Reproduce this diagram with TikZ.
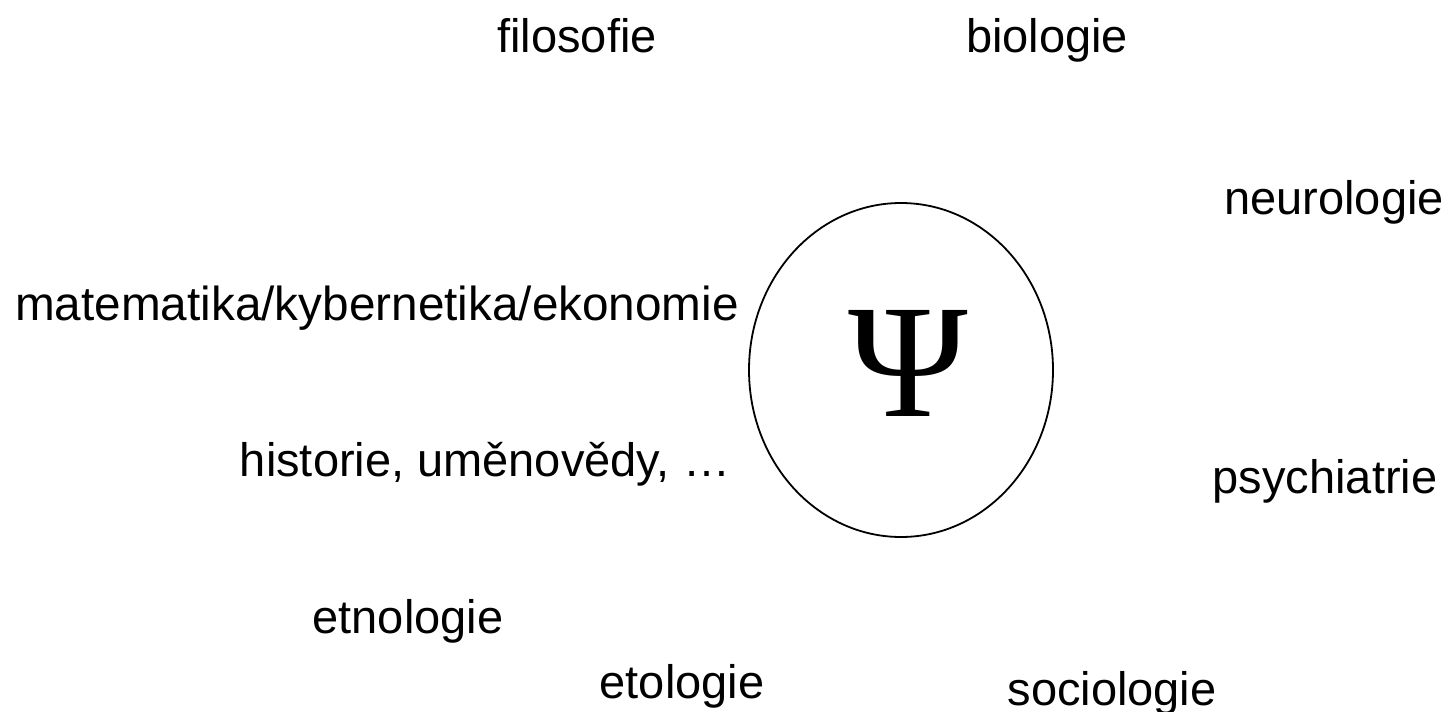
\documentclass[tikz,border=0pt]{standalone}
\usepackage{fontspec}
\usetikzlibrary{shapes.geometric}
\setmainfont{Liberation Sans}
\newfontfamily\psifont{Liberation Serif}
\begin{document}
\begin{tikzpicture}[x=1pt,y=-1pt,
  lbl/.style={anchor=base,inner sep=0pt,font=\fontsize{47}{56}\selectfont},
  psibox/.style={draw,ellipse,line width=1.8pt,minimum width=304pt,minimum height=334pt,inner sep=0pt}]
\useasboundingbox (0,0) rectangle (1451,712);
\node[psibox] (circ) at (901,370) {};
\node[anchor=base,inner sep=0pt,font=\psifont\fontsize{162}{170}\selectfont] (psi) at (908,416) {Ψ};
\node[lbl] (filo) at (577,52) {filosofie};
\node[lbl] (bio) at (1047,52) {biologie};
\node[lbl] (neuro) at (1334,214) {neurologie};
\node[lbl,font=\fontsize{47.7}{56}\selectfont] (mat) at (377,320) {matematika/kybernetika/ekonomie};
\node[lbl] (hist) at (485,476) {historie, uměnovědy, …};
\node[lbl] (psych) at (1325,493) {psychiatrie};
\node[lbl] (etno) at (408,633) {etnologie};
\node[lbl] (eto) at (682,698) {etologie};
\node[lbl] (socio) at (1112,705) {sociologie};
\end{tikzpicture}
\end{document}
